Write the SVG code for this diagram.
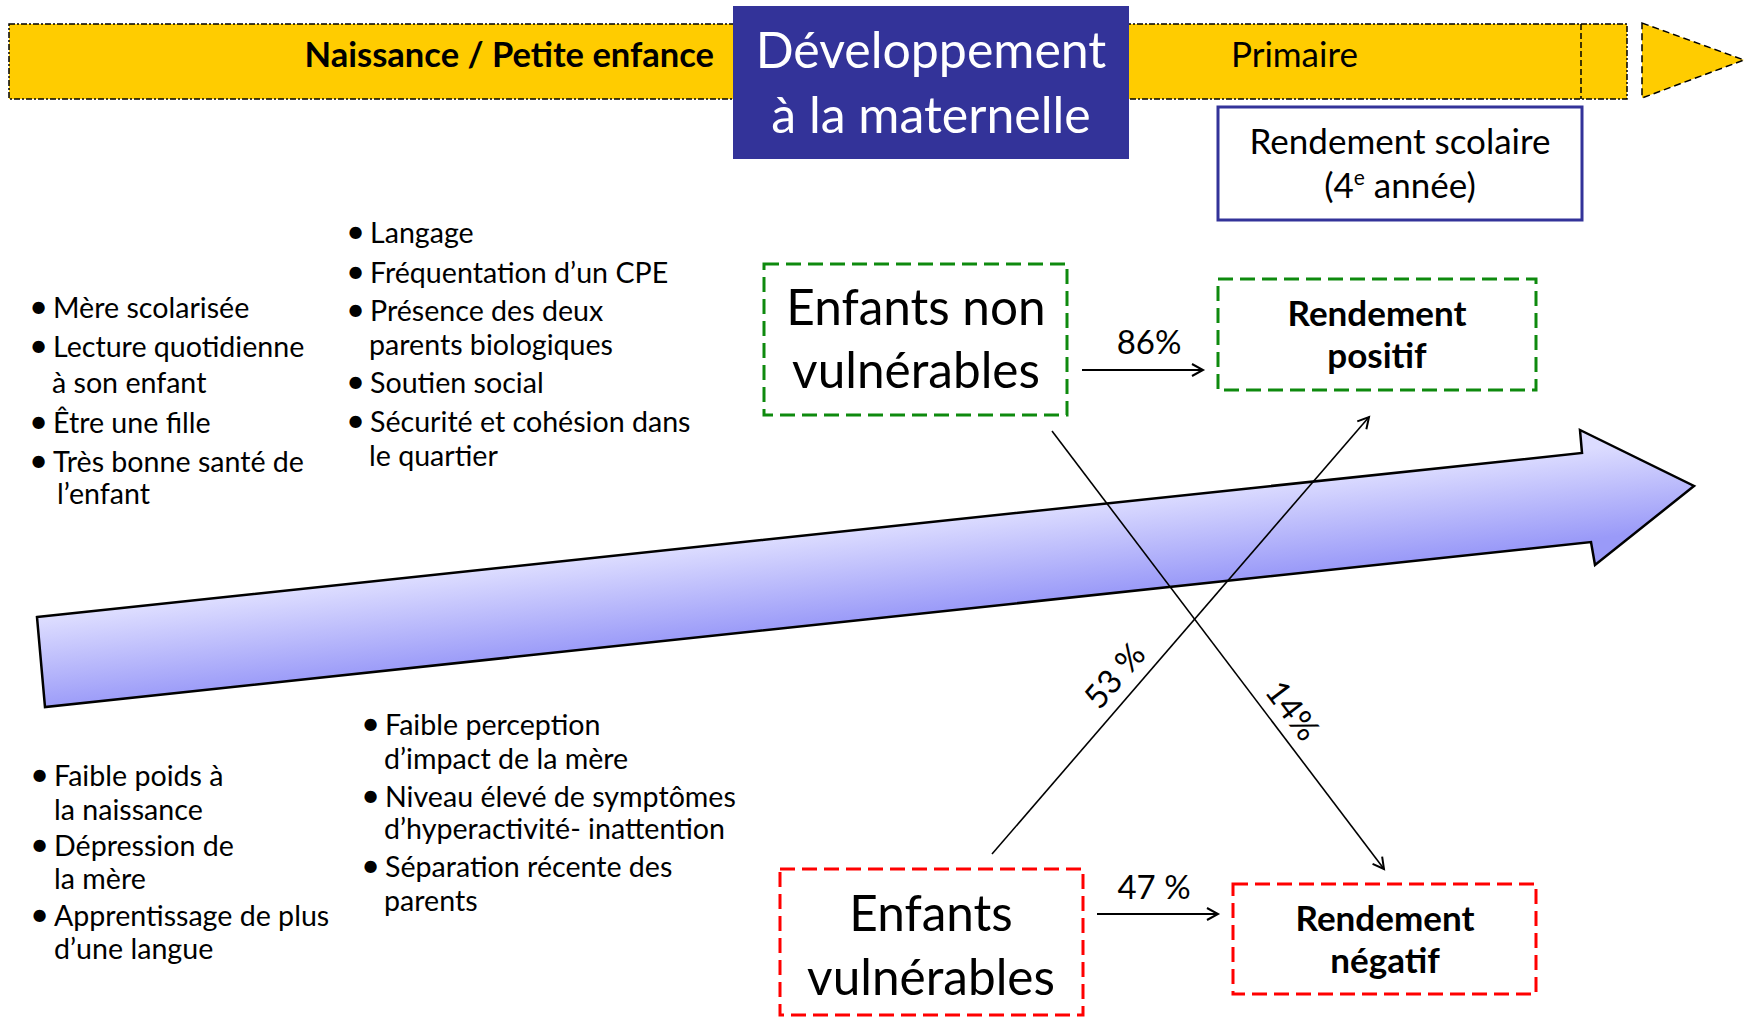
<svg xmlns="http://www.w3.org/2000/svg" width="1747" height="1018" viewBox="0 0 1747 1018">
<style>
text{font-family:Lato,"Open Sans","Liberation Sans",sans-serif;fill:#000}
.li{font-size:28.6px}
.bu{font-size:33px}
.bx{font-size:49.5px}
.bd{font-size:35px;font-weight:bold}
.pc{font-size:33px}
.conn{stroke:#000;fill:none}
</style>
<defs>
<linearGradient id="ag" gradientUnits="userSpaceOnUse" x1="800" y1="536" x2="810" y2="626">
<stop offset="0" stop-color="#DCDCFF"/>
<stop offset="1" stop-color="#9A9AF8"/>
</linearGradient>
<marker id="ah" markerWidth="16" markerHeight="16" refX="13" refY="8" orient="auto" markerUnits="userSpaceOnUse">
<path d="M2,2 L13,8 L2,14" fill="none" stroke="#000" stroke-width="2"/>
</marker>
</defs>
<rect width="1747" height="1018" fill="#fff"/>

<g id="timeline">
<rect x="9" y="24" width="1618" height="75" fill="#FFCC00" stroke="#000" stroke-width="1.5" stroke-dasharray="6 2 2 2"/>
<line x1="1581" y1="24" x2="1581" y2="99" stroke="#000" stroke-width="1.5" stroke-dasharray="6 3"/>
<polygon points="1642,23 1744,60 1642,98" fill="#FFCC00" stroke="#000" stroke-width="1.5" stroke-dasharray="7 4"/>
<text x="714" y="67" text-anchor="end" style="font-size:34.5px;font-weight:bold">Naissance / Petite enfance</text>
<text x="1231" y="67" style="font-size:35px">Primaire</text>
</g>

<g id="maternelle">
<rect x="733" y="6" width="396" height="153" fill="#333399"/>
<text x="931" y="68" text-anchor="middle" style="font-size:50px;fill:#fff">Développement</text>
<text x="931" y="133" text-anchor="middle" style="font-size:50px;fill:#fff">à la maternelle</text>
</g>

<g id="rendement-scolaire">
<rect x="1218" y="107" width="364" height="113" fill="#fff" stroke="#333399" stroke-width="3"/>
<text x="1400" y="154" text-anchor="middle" style="font-size:35px">Rendement scolaire</text>
<text x="1400" y="198" text-anchor="middle" style="font-size:35px">(4<tspan dy="-13" style="font-size:21px">e</tspan><tspan dy="13"> année)</tspan></text>
</g>

<g id="arrow-dev">
<polygon points="37,617 1582,453 1580,430 1694,486 1595,565 1591,542 45,707" fill="url(#ag)" stroke="#000" stroke-width="2.5" stroke-linejoin="miter"/>
</g>

<g id="facteurs-proteg-1" class="li">
<text y="318"><tspan class="bu" x="29">•</tspan><tspan x="53">Mère scolarisée</tspan></text>
<text y="357"><tspan class="bu" x="29">•</tspan><tspan x="53">Lecture quotidienne</tspan></text>
<text x="52" y="393">à son enfant</text>
<text y="433"><tspan class="bu" x="29">•</tspan><tspan x="53">Être une fille</tspan></text>
<text y="472"><tspan class="bu" x="29">•</tspan><tspan x="53">Très bonne santé de</tspan></text>
<text x="57" y="504">l’enfant</text>
</g>

<g id="facteurs-proteg-2" class="li">
<text y="243"><tspan class="bu" x="346">•</tspan><tspan x="370">Langage</tspan></text>
<text y="283"><tspan class="bu" x="346">•</tspan><tspan x="370">Fréquentation d’un CPE</tspan></text>
<text y="321"><tspan class="bu" x="346">•</tspan><tspan x="370">Présence des deux</tspan></text>
<text x="369" y="355">parents biologiques</text>
<text y="393"><tspan class="bu" x="346">•</tspan><tspan x="370">Soutien social</tspan></text>
<text y="432"><tspan class="bu" x="346">•</tspan><tspan x="370">Sécurité et cohésion dans</tspan></text>
<text x="369" y="466">le quartier</text>
</g>

<g id="facteurs-risque-1" class="li">
<text y="786"><tspan class="bu" x="30">•</tspan><tspan x="54">Faible poids à</tspan></text>
<text x="54" y="820">la naissance</text>
<text y="856"><tspan class="bu" x="30">•</tspan><tspan x="54">Dépression de</tspan></text>
<text x="54" y="889">la mère</text>
<text y="926"><tspan class="bu" x="30">•</tspan><tspan x="54">Apprentissage de plus</tspan></text>
<text x="54" y="959">d’une langue</text>
</g>

<g id="facteurs-risque-2" class="li">
<text y="735"><tspan class="bu" x="361">•</tspan><tspan x="385">Faible perception</tspan></text>
<text x="384" y="769">d’impact de la mère</text>
<text y="807"><tspan class="bu" x="361">•</tspan><tspan x="385">Niveau élevé de symptômes</tspan></text>
<text x="384" y="839">d’hyperactivité- inattention</text>
<text y="877"><tspan class="bu" x="361">•</tspan><tspan x="385">Séparation récente des</tspan></text>
<text x="384" y="911">parents</text>
</g>

<g id="non-vulnerables">
<rect x="764" y="264" width="303" height="151" fill="#fff" stroke="#0E8A0E" stroke-width="3" stroke-dasharray="15 7"/>
<text x="916" y="325" text-anchor="middle" class="bx">Enfants non</text>
<text x="916" y="388" text-anchor="middle" class="bx">vulnérables</text>
</g>

<g id="rendement-positif">
<rect x="1218" y="279" width="318" height="111" fill="#fff" stroke="#0E8A0E" stroke-width="3" stroke-dasharray="15 7"/>
<text x="1377" y="326" text-anchor="middle" class="bd">Rendement</text>
<text x="1377" y="368" text-anchor="middle" class="bd">positif</text>
</g>

<g id="vulnerables">
<rect x="780" y="869" width="303" height="146" fill="#fff" stroke="#FF0000" stroke-width="3" stroke-dasharray="15 7"/>
<text x="931" y="931" text-anchor="middle" class="bx">Enfants</text>
<text x="931" y="995" text-anchor="middle" class="bx">vulnérables</text>
</g>

<g id="rendement-negatif">
<rect x="1233" y="884" width="303" height="110" fill="#fff" stroke="#FF0000" stroke-width="3" stroke-dasharray="15 7"/>
<text x="1385" y="931" text-anchor="middle" class="bd">Rendement</text>
<text x="1385" y="973" text-anchor="middle" class="bd">négatif</text>
</g>

<g id="connecteurs">
<line class="conn" x1="1082" y1="370" x2="1203" y2="370" stroke-width="2.2" marker-end="url(#ah)"/>
<line class="conn" x1="1097" y1="914" x2="1218" y2="914" stroke-width="2.2" marker-end="url(#ah)"/>
<line class="conn" x1="1052" y1="431" x2="1384" y2="869" stroke-width="1.6" marker-end="url(#ah)"/>
<line class="conn" x1="992" y1="854" x2="1369" y2="417" stroke-width="1.6" marker-end="url(#ah)"/>
<text x="1149" y="354" text-anchor="middle" class="pc">86%</text>
<text x="1154" y="899" text-anchor="middle" class="pc">47 %</text>
<text x="1115" y="687" text-anchor="middle" class="pc" transform="rotate(-49.2 1115 676)">53 %</text>
<text x="1292" y="722" text-anchor="middle" class="pc" transform="rotate(52.8 1292 711)">14%</text>
</g>
</svg>
